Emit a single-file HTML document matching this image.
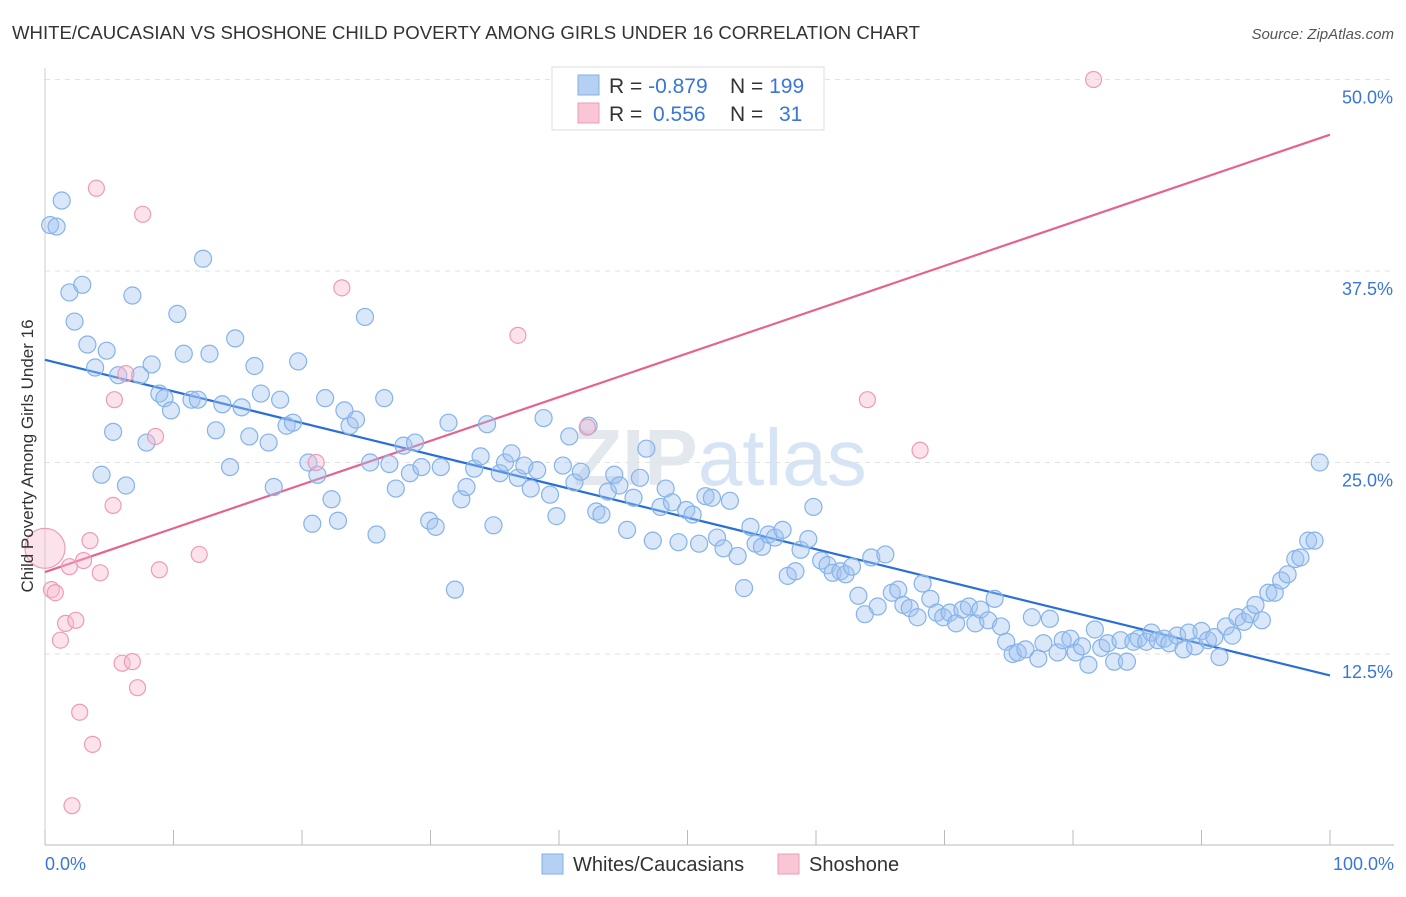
<!DOCTYPE html>
<html><head><meta charset="utf-8"><style>
body{margin:0;background:#fff;font-family:"Liberation Sans",sans-serif;}
svg text{font-family:"Liberation Sans",sans-serif;}
</style></head><body>
<svg id="chart" width="1406" height="892" xmlns="http://www.w3.org/2000/svg">
<text x="12" y="39" font-size="18" fill="#333" textLength="908" lengthAdjust="spacingAndGlyphs">WHITE/CAUCASIAN VS SHOSHONE CHILD POVERTY AMONG GIRLS UNDER 16 CORRELATION CHART</text>
<text x="1394" y="39" font-size="15" fill="#555" font-style="italic" text-anchor="end">Source: ZipAtlas.com</text>
<text x="720" y="485" font-size="80" fill="#e3e8ef" text-anchor="middle" font-weight="bold">ZIP<tspan fill="#d6e4f5" font-weight="normal">atlas</tspan></text>
<g id="grid"></g><g id="axes"></g><g id="lines"></g><g id="pts"></g>
<text transform="translate(33,456) rotate(-90)" font-size="17" fill="#333" text-anchor="middle">Child Poverty Among Girls Under 16</text>
<g>
<rect x="552" y="67" width="272" height="63" fill="#fff" stroke="#ddd"/>
<rect x="578" y="75" width="21" height="20" fill="#b6d0f3" stroke="#7fb0ea"/>
<rect x="578" y="103" width="21" height="20" fill="#f9c6d5" stroke="#ee9bb5"/>
<text x="609" y="93" font-size="21" fill="#333">R = <tspan fill="#3a76d8">-0.879</tspan></text>
<text x="730" y="93" font-size="21" fill="#333">N = <tspan fill="#3a76d8">199</tspan></text>
<text x="609" y="121" font-size="21" fill="#333">R = <tspan fill="#3a76d8" x="653">0.556</tspan></text>
<text x="730" y="121" font-size="21" fill="#333">N = <tspan fill="#3a76d8" x="779">31</tspan></text>
</g>
<g>
<rect x="542" y="854" width="21" height="20" fill="#b6d0f3" stroke="#7fb0ea"/>
<text x="573" y="871" font-size="20" fill="#333">Whites/Caucasians</text>
<rect x="778" y="854" width="21" height="20" fill="#f9c6d5" stroke="#ee9bb5"/>
<text x="809" y="871" font-size="20" fill="#333">Shoshone</text>
</g>
</svg>
<script>
const blueX=[0.4,0.9,1.3,1.9,2.9,2.3,3.3,3.9,4.8,5.3,5.7,4.4,6.3,6.8,7.4,7.9,8.3,8.9,9.3,9.8,10.3,10.8,11.4,11.9,12.3,12.8,13.3,13.8,14.4,14.8,15.3,15.9,16.3,16.8,17.4,17.8,18.3,18.8,19.3,19.7,20.5,20.8,21.2,21.8,22.3,22.8,23.3,23.7,24.2,24.9,25.3,25.8,26.4,26.8,27.3,27.9,28.4,28.8,29.3,29.9,30.4,30.8,31.4,31.9,32.4,32.8,33.4,33.9,34.4,34.9,35.4,35.8,36.3,36.8,37.3,37.8,38.3,38.8,39.3,39.8,40.3,40.8,41.2,41.7,42.3,42.9,43.3,43.8,44.3,44.7,45.3,45.8,46.3,46.8,47.3,47.9,48.3,48.8,49.3,49.9,50.4,50.9,51.4,51.9,52.3,52.8,53.3,53.9,54.4,54.9,55.3,55.8,56.3,56.8,57.4,57.8,58.4,58.8,59.4,59.8,60.4,60.9,61.3,61.9,62.3,62.8,63.3,63.8,64.3,64.8,65.4,65.9,66.4,66.8,67.3,67.9,68.3,68.9,69.4,69.9,70.4,70.9,71.4,71.9,72.4,72.8,73.4,73.9,74.4,74.8,75.3,75.7,76.3,76.8,77.3,77.7,78.2,78.8,79.2,79.8,80.2,80.7,81.2,81.7,82.2,82.7,83.2,83.7,84.2,84.7,85.1,85.7,86.1,86.6,87.1,87.5,88.1,88.6,89.0,89.5,90.0,90.5,91.0,91.4,91.9,92.4,92.8,93.3,93.8,94.2,94.7,95.2,95.7,96.2,96.7,97.3,97.7,98.3,98.8,99.2];
const blueY=[40.5,40.4,42.1,36.1,36.6,34.2,32.7,31.2,32.3,27.0,30.7,24.2,23.5,35.9,30.7,26.3,31.4,29.5,29.2,28.4,34.7,32.1,29.1,29.1,38.3,32.1,27.1,28.8,24.7,33.1,28.6,26.7,31.3,29.5,26.3,23.4,29.1,27.4,27.6,31.6,25.0,21.0,24.2,29.2,22.6,21.2,28.4,27.4,27.8,34.5,25.0,20.3,29.2,24.9,23.3,26.1,24.3,26.3,24.7,21.2,20.8,24.7,27.6,16.7,22.6,23.4,24.6,25.4,27.5,20.9,24.3,25.0,25.6,24.0,24.8,23.3,24.5,27.9,22.9,21.5,24.8,26.7,23.7,24.4,27.4,21.8,21.6,23.1,24.2,23.5,20.6,22.7,24.0,25.9,19.9,22.1,23.3,22.4,19.8,21.9,21.6,19.7,22.8,22.7,20.1,19.4,22.5,18.9,16.8,20.8,19.7,19.5,20.3,20.1,20.6,17.6,17.9,19.3,20.0,22.1,18.6,18.3,17.8,17.9,17.7,18.2,16.3,15.1,18.8,15.6,19.0,16.5,16.7,15.7,15.5,14.9,17.1,16.1,15.2,14.9,15.2,14.5,15.4,15.6,14.5,15.4,14.7,16.1,14.3,13.3,12.5,12.6,12.8,14.9,12.2,13.2,14.8,12.6,13.4,13.5,12.6,13.0,11.8,14.1,12.9,13.2,12.0,13.4,12.0,13.3,13.5,13.3,13.9,13.4,13.5,13.2,13.7,12.8,13.9,13.0,14.0,13.4,13.6,12.3,14.3,13.7,14.9,14.6,15.1,15.7,14.7,16.5,16.5,17.3,17.7,18.7,18.8,19.9,19.9,25.0];
const pinkX=[0,0.5,0.8,1.2,1.6,1.9,2.4,2.7,3.0,3.5,3.7,4.0,4.3,5.3,5.4,6.0,6.3,6.8,7.2,7.6,8.6,8.9,12.0,21.1,23.1,36.8,42.2,2.1,64.0,68.1,81.6];
const pinkY=[19.4,16.7,16.5,13.4,14.5,18.2,14.7,8.7,18.6,19.9,6.6,42.9,17.8,22.2,29.1,11.9,30.8,12.0,10.3,41.2,26.7,18.0,19.0,25.0,36.4,33.3,27.3,2.6,29.1,25.8,50.0];
const blueTrend=[31.7,11.1];
const pinkTrend=[17.85,46.4];
const yTicks=[12.5,25.0,37.5,50.0];
const xTickVals=[0,10,20,30,40,50,60,70,80,90,100];
const NS="http://www.w3.org/2000/svg";
const sx=v=>45+v*12.85;
const sy=v=>654-(v-12.5)*15.32;
function mk(tag,attrs,parent){const e=document.createElementNS(NS,tag);for(const k in attrs)e.setAttribute(k,attrs[k]);parent.appendChild(e);return e;}
const grid=document.getElementById('grid'),axes=document.getElementById('axes'),lines=document.getElementById('lines'),pts=document.getElementById('pts');
yTicks.forEach(t=>{
 const l=mk('line',{x1:45,x2:1394,y1:sy(t),y2:sy(t),stroke:'#e2e2e2','stroke-dasharray':'5,5'},grid);
 
 
 const tx=mk('text',{x:1393,y:sy(t)+24,'font-size':18,fill:'#3a76d8','text-anchor':'end'},grid);
 tx.textContent=t.toFixed(1)+'%';
 
 
});
const ax=mk('line',{x1:45,x2:1394,y1:845,y2:845,stroke:'#bbb'},axes);


const ay=mk('line',{x1:45,x2:45,y1:68,y2:845,stroke:'#ccc'},axes);


xTickVals.forEach(t=>{
 const l=mk('line',{x1:sx(t),x2:sx(t),y1:830,y2:845,stroke:'#bbb'},axes);
 
 
});
const xl0=mk('text',{x:45,y:870,'font-size':18,fill:'#3a76d8'},axes);xl0.textContent='0.0%';


const xl1=mk('text',{x:1394,y:870,'font-size':18,fill:'#3a76d8','text-anchor':'end'},axes);xl1.textContent='100.0%';


blueX.forEach((x,i)=>{
 const c=mk('circle',{cx:sx(x),cy:sy(blueY[i]),r:8.5,fill:'rgba(160,196,240,0.4)',stroke:'#85b3ea','stroke-width':1.2},pts);
 
 
});
pinkX.forEach((x,i)=>{
 const c=mk('circle',{cx:sx(x),cy:sy(pinkY[i]),r:i===0?20:8,fill:'rgba(247,185,205,0.4)',stroke:'#ee9bb5','stroke-width':1.2},pts);
 
 
});
const bl=mk('line',{x1:sx(0),y1:sy(blueTrend[0]),x2:sx(100),y2:sy(blueTrend[1]),stroke:'#2a6fd6','stroke-width':2.2},lines);


const pl=mk('line',{x1:sx(0),y1:sy(pinkTrend[0]),x2:sx(100),y2:sy(pinkTrend[1]),stroke:'#e4648f','stroke-width':2.2},lines);


</script>
</body></html>
